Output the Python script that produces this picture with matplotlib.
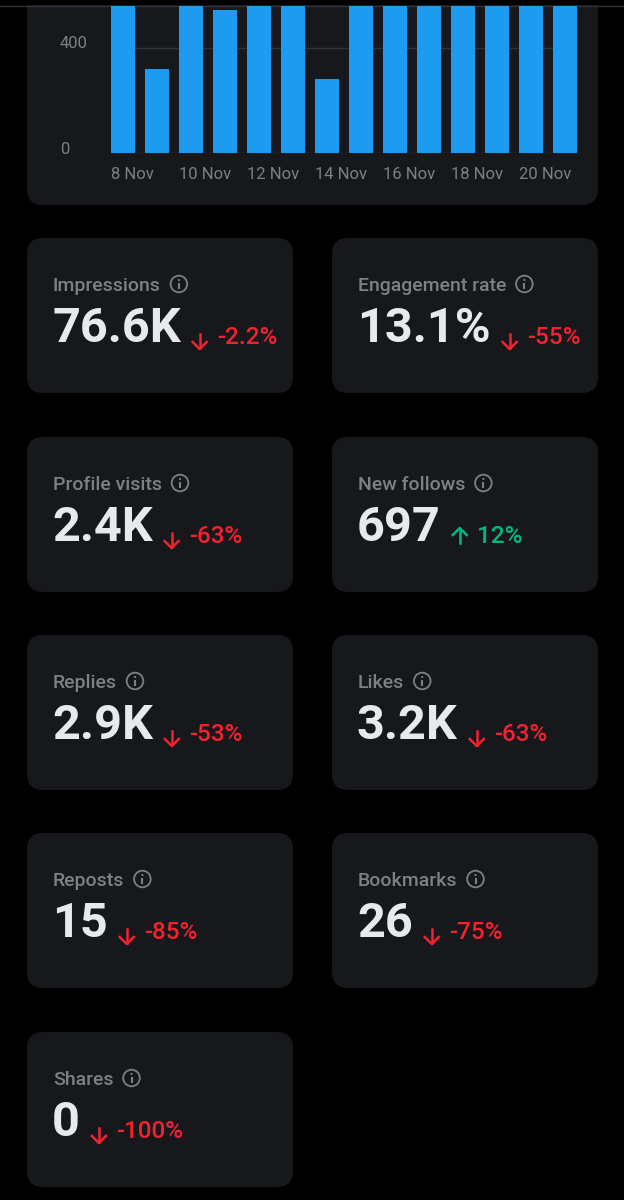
import matplotlib
matplotlib.use("Agg")
import matplotlib.pyplot as plt
from matplotlib.patches import FancyBboxPatch, Circle, Rectangle
from matplotlib.transforms import ScaledTranslation

plt.rcParams['font.family'] = ['Roboto', 'DejaVu Sans']

# daily impressions (bars above ~560 are cut off at the top of the screenshot)
days = ['8 Nov', '9 Nov', '10 Nov', '11 Nov', '12 Nov', '13 Nov', '14 Nov',
        '15 Nov', '16 Nov', '17 Nov', '18 Nov', '19 Nov', '20 Nov', '21 Nov']
daily = [1150, 320, 980, 544, 1210, 870, 282, 1340, 1020, 1180, 950, 1260, 1090, 1300]
y_ticks = [0, 400]

metric_names = ['Impressions', 'Engagement rate', 'Profile visits', 'New follows',
                'Replies', 'Likes', 'Reposts', 'Bookmarks', 'Shares']
metric_values = ['76.6K', '13.1%', '2.4K', '697', '2.9K', '3.2K', '15', '26', '0']
metric_changes = [-2.2, -55, -63, 12, -53, -63, -85, -75, -100]

BG = '#000000'
CARD = '#16181c'
GRAY = '#7c8186'
WHITE = '#e7e9ea'
RED = '#f4212e'
GREEN = '#00ba7c'
BLUE = '#1d9bf0'
GRID = '#2f3336'

W, H = 624, 1200
fig = plt.figure(figsize=(W / 100, H / 100), dpi=100, facecolor=BG)

# background axes in pixel coordinates (y down)
bg = fig.add_axes([0, 0, 1, 1], zorder=0)
bg.set_xlim(0, W)
bg.set_ylim(H, 0)
bg.axis('off')
bg.set_facecolor(BG)

def card(x, y, w, h):
    bg.add_patch(FancyBboxPatch((x, y), w, h, boxstyle='round,pad=0,rounding_size=16',
                                fc=CARD, ec='none', zorder=1))

# chart card (top cut off)
card(27, -40, 571, 245)
bg.add_patch(Rectangle((0, 0), W, 5, fc=BG, ec='none', zorder=5))
bg.plot([0, W], [5.5, 5.5], color=GRID, lw=1, zorder=6)

# bar chart
ax = fig.add_axes([111 / W, 1 - 153 / H, (577 - 111) / W, (153 - 6) / H], zorder=2)
ax.set_facecolor('none')
x = list(range(len(days)))
ax.bar(x, daily, width=0.7, color=BLUE, zorder=3)
ax.set_xlim(-0.35, len(days) - 0.65)
ax.set_ylim(0, 560)
for s in ax.spines.values():
    s.set_visible(False)
ax.set_yticks(y_ticks)
ax.set_yticklabels([str(v) for v in y_ticks], ha='left')
ax.grid(axis='y', color=GRID, lw=1, zorder=1)
ax.tick_params(axis='y', length=0, pad=51 * 0.72, labelcolor=GRAY, labelsize=12)
for lab in ax.get_yticklabels():
    lab.set_transform(lab.get_transform() + ScaledTranslation(0, 5.5 / 100, fig.dpi_scale_trans))
ax.set_xticks([i - 0.35 for i in x[::2]])
ax.set_xticklabels(days[::2], ha='left')
ax.tick_params(axis='x', length=0, pad=10, labelcolor=GRAY, labelsize=12)

# metric cards
col_x = [27, 332]
row_y = [238, 437, 635, 833, 1032]
cw, ch = 266, 155
renderer = fig.canvas.get_renderer()

for k, name in enumerate(metric_names):
    cx = col_x[k % 2]
    cy = row_y[k // 2]
    card(cx, cy, cw, ch)

    lab = bg.text(cx + 26, cy + 53, name, color=GRAY, fontsize=14, fontweight='medium',
                  va='baseline', zorder=3)
    lx1 = lab.get_window_extent(renderer).x1
    icx, icy = lx1 + 18, cy + 46
    bg.add_patch(Circle((icx, icy), 8.3, fc='none', ec=GRAY, lw=1.3, zorder=3))
    bg.plot([icx, icx], [icy - 1, icy + 4.5], color=GRAY, lw=1.5, solid_capstyle='butt', zorder=3)
    bg.add_patch(Circle((icx, icy - 4), 1.1, fc=GRAY, ec='none', zorder=3))

    val = bg.text(cx + 25, cy + 104, metric_values[k], color=WHITE, fontsize=35,
                  fontweight='bold', va='baseline', zorder=3)
    vx1 = val.get_window_extent(renderer).x1

    chg = metric_changes[k]
    col = GREEN if chg > 0 else RED
    base = cy + 106
    am = vx1 + 19
    if chg > 0:
        top, bot = base - 15, base
        bg.plot([am, am], [top + 1, bot], color=col, lw=1.8, zorder=3)
        bg.plot([am - 7, am, am + 7], [top + 7, top, top + 7], color=col, lw=1.8, zorder=3)
    else:
        top, bot = base - 10, base + 5
        bg.plot([am, am], [top, bot - 1], color=col, lw=1.8, zorder=3)
        bg.plot([am - 7, am, am + 7], [bot - 7, bot, bot - 7], color=col, lw=1.8, zorder=3)
    bg.text(am + 17, base, f"{chg:g}%", color=col, fontsize=17.5, fontweight='medium',
            va='baseline', zorder=3)

fig.savefig('out.png', dpi=100, facecolor=BG)
